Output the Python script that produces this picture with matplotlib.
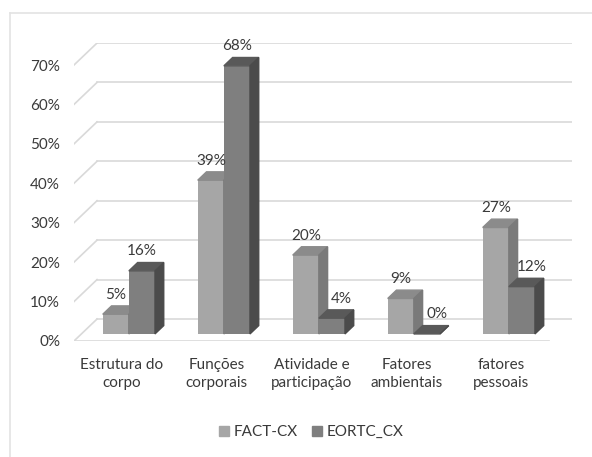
import matplotlib.pyplot as plt
from matplotlib.patches import Polygon
from matplotlib.lines import Line2D

plt.rcParams['font.family'] = ['Lato', 'DejaVu Sans']

categories = ['Estrutura do\ncorpo', 'Funções\ncorporais', 'Atividade e\nparticipação',
              'Fatores\nambientais', 'fatores\npessoais']
fact_cx = [5, 39, 20, 9, 27]
eortc_cx = [16, 68, 4, 0, 12]
series_names = ['FACT-CX', 'EORTC_CX']
yticks = [0, 10, 20, 30, 40, 50, 60, 70]

# oblique depth of the floor, in data units
DX = 0.2426
DY = 5.58
FRONT = 0.32   # depth of bar front face
DEPTH = 0.38   # depth of the bar itself
W = 0.275
FS = 11

colors = {
    'FACT-CX': ('#a6a6a6', '#8b8b8b', '#7a7a7a'),
    'EORTC_CX': ('#7f7f7f', '#595959', '#4b4b4b'),
}
text_color = '#3a3a3a'
grid_color = '#d9d9d9'

fig = plt.figure(figsize=(5.92, 4.57), dpi=100)
ax = fig.add_axes([74 / 592, 1 - 341 / 457, 498 / 592, 298 / 457])
ax.set_xlim(-0.5, 4.5 + DX)
ax.set_ylim(0, 70 + DY)

# walls and floor gridlines
for v in yticks:
    ax.plot([-0.5, -0.5 + DX], [v, v + DY], color=grid_color, lw=1.2, zorder=1)
    ax.plot([-0.5 + DX, 4.5 + DX], [v + DY, v + DY], color=grid_color, lw=1.2, zorder=1)
ax.plot([-0.5, 4.5], [0, 0], color=grid_color, lw=1.2, zorder=1)


def draw_bar(x0, v, name, z):
    front, top, side = colors[name]
    base = FRONT * DY
    x1 = x0 + W
    ox, oy = DEPTH * DX, DEPTH * DY
    ax.bar(x0, v, width=W, bottom=base, align='edge', color=front, zorder=z)
    ax.add_patch(Polygon([(x0, base + v), (x1, base + v), (x1 + ox, base + v + oy),
                          (x0 + ox, base + v + oy)], closed=True, color=top, zorder=z))
    ax.add_patch(Polygon([(x1, base), (x1, base + v), (x1 + ox, base + v + oy),
                          (x1 + ox, base + oy)], closed=True, color=side, zorder=z))


for i in range(len(categories)):
    xf = i + FRONT * DX - W
    xe = i + FRONT * DX
    draw_bar(xf, fact_cx[i], 'FACT-CX', 2 + 2 * i)
    draw_bar(xe, eortc_cx[i], 'EORTC_CX', 3 + 2 * i)
    top_off = (FRONT + DEPTH) * DY
    ax.annotate(f'{fact_cx[i]}%', (xf + W / 2, fact_cx[i] + top_off), xytext=(0, 3),
                textcoords='offset points', ha='center', va='bottom',
                fontsize=FS, color=text_color, zorder=20)
    shift = 7 if eortc_cx[i] < fact_cx[i] else 0
    ax.annotate(f'{eortc_cx[i]}%', (xe + W / 2, eortc_cx[i] + top_off), xytext=(shift, 3),
                textcoords='offset points', ha='center', va='bottom',
                fontsize=FS, color=text_color, zorder=20)

for s in ax.spines.values():
    s.set_visible(False)
ax.set_xticks(range(len(categories)))
ax.set_xticklabels(categories, fontsize=FS, color=text_color, linespacing=1.4)
ax.set_yticks(yticks)
ax.set_yticklabels([f'{v}%' for v in yticks], fontsize=FS, color=text_color)
ax.tick_params(length=0)
ax.tick_params(axis='x', pad=12)
ax.tick_params(axis='y', pad=10)
ax.patch.set_visible(False)

handles = [Line2D([], [], marker='s', ls='', markersize=7, color=colors[n][0]) for n in series_names]
fig.legend(handles, series_names, loc='center', bbox_to_anchor=(0.526, 1 - 432 / 457),
           ncol=2, frameon=False, fontsize=FS, labelcolor=text_color,
           handlelength=0.6, handletextpad=0.3, columnspacing=1.0)

# outer chart frame (top and left edges visible)
fig.add_artist(Line2D([10 / 592, 1], [1 - 13 / 457, 1 - 13 / 457], color='#e3e3e3', lw=1.2))
fig.add_artist(Line2D([10 / 592, 10 / 592], [0, 1 - 13 / 457], color='#e3e3e3', lw=1.2))

fig.savefig('out.png', dpi=100, facecolor='white')
